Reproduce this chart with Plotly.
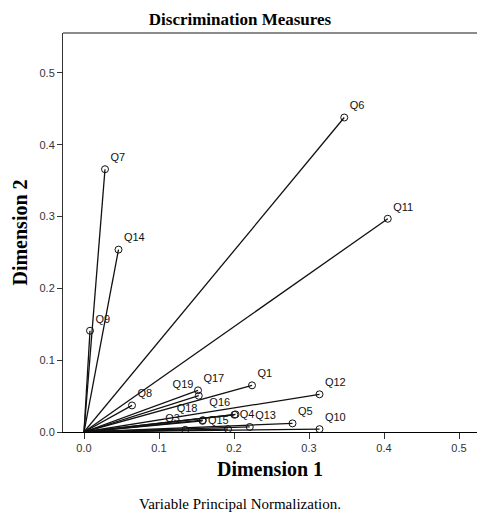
import plotly.graph_objects as go

# ---- data ----
variables = ["Q1", "Q2", "Q3", "Q4", "Q5", "Q6", "Q7", "Q8", "Q9", "Q10",
             "Q11", "Q12", "Q13", "Q14", "Q15", "Q16", "Q17", "Q18", "Q19"]
dim1 = [0.224, 0.192, 0.135, 0.2005, 0.278, 0.347, 0.028, 0.064, 0.008, 0.314,
        0.405, 0.314, 0.221, 0.046, 0.158, 0.202, 0.152, 0.1585, 0.153]
dim2 = [0.065, 0.004, 0.003, 0.0240, 0.012, 0.438, 0.366, 0.037, 0.141, 0.004,
        0.297, 0.0525, 0.007, 0.254, 0.0155, 0.0245, 0.058, 0.0165, 0.0505]
hidden_labels = ["Q2"]          # label suppressed (overlap) in the reference
x_ticks = [0.0, 0.1, 0.2, 0.3, 0.4, 0.5]
y_ticks = [0.0, 0.1, 0.2, 0.3, 0.4, 0.5]

# label placement (style)
label_pos = {"Q3": "top left", "Q4": "middle right", "Q15": "middle right",
             "Q16": "top left", "Q18": "top left", "Q19": "top left"}

# vectors from origin
lx, ly = [], []
for a, b in zip(dim1, dim2):
    lx += [0, a, None]
    ly += [0, b, None]

fig = go.Figure()
fig.add_trace(go.Scatter(x=lx, y=ly, mode="lines",
                         line=dict(color="#111111", width=1.3),
                         hoverinfo="skip", showlegend=False))
fig.add_trace(go.Scatter(
    x=dim1, y=dim2, mode="markers+text",
    text=["" if v in hidden_labels else v for v in variables],
    textposition=[label_pos.get(v, "top right") for v in variables],
    textfont=dict(family="Liberation Sans, Arial, sans-serif", size=11, color="#111111"),
    marker=dict(symbol="circle-open", size=7, color="#111111", line=dict(width=1)),
    showlegend=False))

serif = "Liberation Serif, Times New Roman, serif"
fig.update_layout(
    width=477, height=512,
    margin=dict(l=63, r=0, t=33, b=80),
    paper_bgcolor="white", plot_bgcolor="white",
    title=dict(text="<b>Discrimination Measures</b>", x=(240 / 477), xref="container",
               xanchor="center",
               y=1 - 19 / 512, yref="container", yanchor="middle",
               font=dict(family=serif, size=17, color="black")),
    xaxis=dict(range=[-0.028, 0.524], tickvals=x_ticks,
               ticktext=[f"{v:.1f}" for v in x_ticks],
               showgrid=False, zeroline=False, showline=True, linecolor="black",
               linewidth=1, ticks="outside", ticklen=6, tickcolor="#333",
               tickfont=dict(family="Liberation Sans, Arial, sans-serif", size=11, color="#333"),
               title=dict(text="<b>Dimension 1</b>", standoff=8,
                          font=dict(family=serif, size=20, color="black"))),
    yaxis=dict(range=[0, 0.5557], tickvals=y_ticks,
               ticktext=[f"{v:.1f}" for v in y_ticks],
               showgrid=False, zeroline=False, showline=True, linecolor="#333",
               linewidth=1, ticks="outside", ticklen=5, tickcolor="#333",
               tickfont=dict(family="Liberation Sans, Arial, sans-serif", size=11, color="#333"),
               title=dict(text="<b>Dimension 2</b>", standoff=6,
                          font=dict(family=serif, size=20, color="black"))),
    annotations=[dict(text="Variable Principal Normalization.", xref="paper", yref="paper",
                      x=(240 - 63) / 414, y=-(504 - 432) / 399, xanchor="center", yanchor="middle",
                      showarrow=False, font=dict(family=serif, size=15, color="black"))],
    shapes=[dict(type="line", xref="paper", yref="paper", x0=0, x1=1.02, y0=1, y1=1,
                 line=dict(color="#666666", width=1.5))],
)

fig.write_html("out.html", config={"displayModeBar": False},
               post_script="document.body.style.margin='0';document.body.style.overflow='hidden';")
